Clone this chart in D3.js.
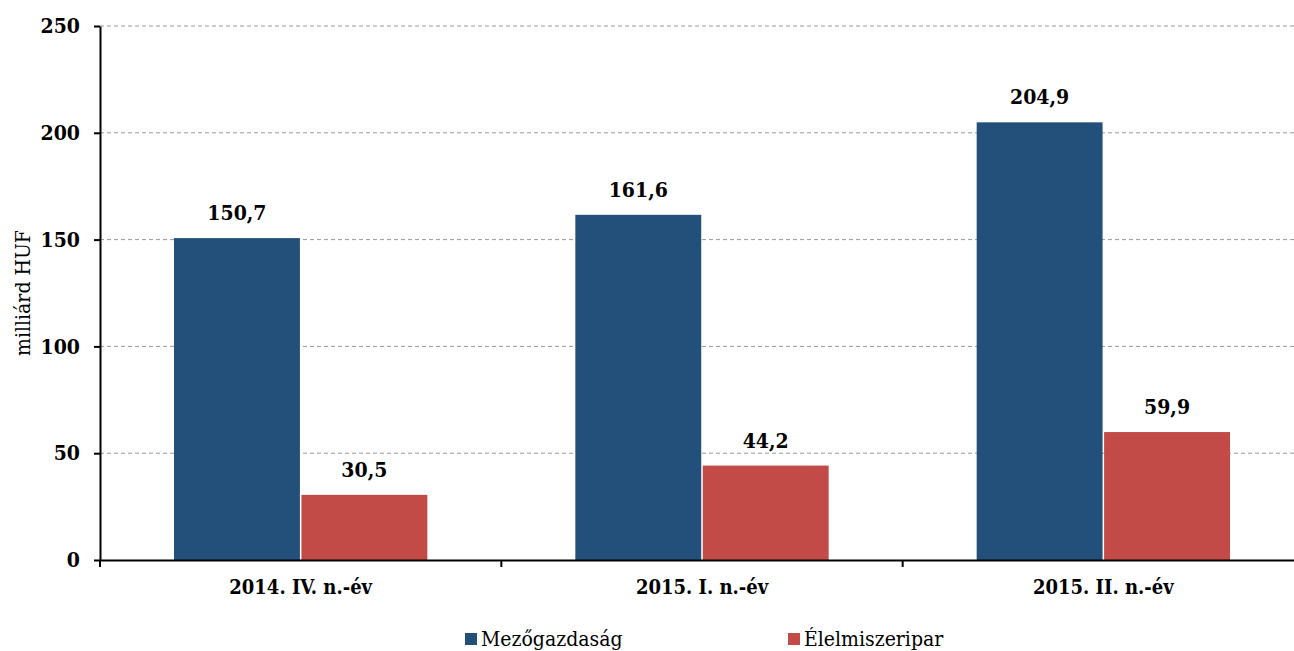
<!DOCTYPE html>
<html>
<head>
<meta charset="utf-8">
<script src="https://cdn.jsdelivr.net/npm/d3@7"></script>
<style>
  body { margin: 0; background: #fff; }
</style>
</head>
<body>
<svg id="svg" width="1294" height="651"></svg>
<script>
    var categories = ['2014. IV. n.-év', '2015. I. n.-év', '2015. II. n.-év'];
    var seriesNames = ['Mezőgazdaság', 'Élelmiszeripar'];
    var mezogazdasag = [150.7, 161.6, 204.9];
    var elelmiszeripar = [30.5, 44.2, 59.9];
    var yTicks = [0, 50, 100, 150, 200, 250];
    var colors = ['#22507a', '#c24b48'];
    var serif = "'DejaVu Serif Condensed', 'DejaVu Serif', serif";

    var svg = d3.select('#svg');
    var x0 = 100, x1 = 1304, yTop = 26, yBottom = 560;

    var x = d3.scaleBand().domain(categories).range([x0, x1]).paddingInner(0).paddingOuter(0);
    var xs = d3.scaleBand().domain(seriesNames).range([74, x.bandwidth() - 74]).paddingInner(0.012);
    var y = d3.scaleLinear().domain([0, 250]).range([yBottom, yTop]);

    // gridlines
    svg.append('g').selectAll('line')
        .data(yTicks.slice(1))
        .enter().append('line')
        .attr('x1', x0).attr('x2', x1)
        .attr('y1', function (d) { return y(d); })
        .attr('y2', function (d) { return y(d); })
        .attr('stroke', '#999')
        .attr('stroke-width', 1)
        .attr('stroke-dasharray', '4,3');

    // bars
    var rows = categories.map(function (c, i) {
        return { cat: c, vals: [mezogazdasag[i], elelmiszeripar[i]] };
    });
    var group = svg.append('g').selectAll('g')
        .data(rows)
        .enter().append('g')
        .attr('transform', function (d) { return 'translate(' + x(d.cat) + ',0)'; });
    group.selectAll('rect')
        .data(function (d) { return d.vals.map(function (v, k) { return { name: seriesNames[k], v: v, k: k }; }); })
        .enter().append('rect')
        .attr('x', function (d) { return xs(d.name); })
        .attr('width', xs.bandwidth())
        .attr('y', function (d) { return y(d.v); })
        .attr('height', function (d) { return y(0) - y(d.v); })
        .attr('fill', function (d) { return colors[d.k]; });
    group.selectAll('text')
        .data(function (d) { return d.vals.map(function (v, k) { return { name: seriesNames[k], v: v }; }); })
        .enter().append('text')
        .attr('x', function (d) { return xs(d.name) + xs.bandwidth() / 2; })
        .attr('y', function (d) { return y(d.v) - 18; })
        .attr('text-anchor', 'middle')
        .style('font-family', serif)
        .style('font-size', '21px')
        .style('font-weight', 'bold')
        .text(function (d) { return d3.format('.1f')(d.v).replace('.', ','); });

    // y axis
    var yAxis = svg.append('g')
        .attr('transform', 'translate(' + x0 + ',0)')
        .call(d3.axisLeft(y).tickValues(yTicks).tickSize(6).tickPadding(14).tickSizeOuter(0));
    yAxis.select('.domain').attr('stroke', '#000').attr('stroke-width', 2);
    yAxis.selectAll('.tick line').attr('stroke', '#000').attr('stroke-width', 2);
    yAxis.selectAll('.tick text')
        .style('font-size', '21px')
        .style('font-weight', 'bold')
        .style('font-family', serif)
        .attr('fill', '#000');

    // x axis
    var xAxis = svg.append('g')
        .attr('transform', 'translate(0,' + yBottom + ')')
        .call(d3.axisBottom(x).tickSize(0).tickPadding(20).tickSizeOuter(0));
    xAxis.select('.domain').attr('stroke', '#000').attr('stroke-width', 2);
    xAxis.selectAll('.tick text')
        .style('font-size', '20px')
        .style('font-weight', 'bold')
        .style('font-family', serif)
        .attr('fill', '#000');
    xAxis.append('g').selectAll('line')
        .data(categories.map(function (c) { return x(c); }).concat([x1]))
        .enter().append('line')
        .attr('x1', function (d) { return d; }).attr('x2', function (d) { return d; })
        .attr('y1', 0).attr('y2', 7)
        .attr('stroke', '#000').attr('stroke-width', 2);

    // y title
    svg.append('text')
        .attr('transform', 'translate(30,' + ((yTop + yBottom) / 2) + ') rotate(-90)')
        .attr('text-anchor', 'middle')
        .style('font-family', serif)
        .style('font-size', '21px')
        .text('milliárd HUF');

    // legend
    var legendX = [465, 788];
    var legend = svg.append('g').selectAll('g')
        .data(seriesNames)
        .enter().append('g')
        .attr('transform', function (d, i) { return 'translate(' + legendX[i] + ',633)'; });
    legend.append('rect')
        .attr('width', 12).attr('height', 12)
        .attr('fill', function (d, i) { return colors[i]; });
    legend.append('text')
        .attr('x', 16).attr('y', 13)
        .style('font-family', serif)
        .style('font-size', '21px')
        .text(function (d) { return d; });
</script>
</body>
</html>
